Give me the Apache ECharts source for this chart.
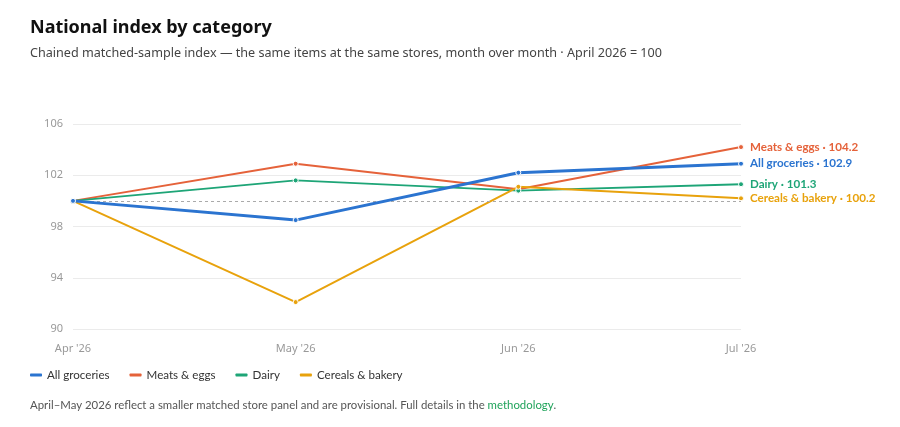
<!DOCTYPE html>
<html><head><meta charset="utf-8">
<script src="https://cdn.jsdelivr.net/npm/echarts@6/dist/echarts.min.js"></script>
<style>html,body{margin:0;padding:0;background:#fff}#c{width:900px;height:427px}</style>
</head><body><div id="c"></div>
<script>
const categories = ["Apr '26", "May '26", "Jun '26", "Jul '26"];
const allGroceries = [100, 98.5, 102.2, 102.9];
const meatsEggs = [100, 102.9, 100.9, 104.2];
const dairy = [100, 101.6, 100.8, 101.3];
const cerealsBakery = [100, 92.1, 101.1, 100.2];
const yTicks = [90, 94, 98, 102, 106];
const seriesNames = ["All groceries", "Meats & eggs", "Dairy", "Cereals & bakery"];
const colors = ["#2b74d0", "#e5623a", "#1ea577", "#e8a20c"];
const FONT = "'Noto Sans', sans-serif";
const FONT2 = "Lato, sans-serif";

const chart = echarts.init(document.getElementById('c'), null, {renderer: 'canvas'});
const data = [allGroceries, meatsEggs, dairy, cerealsBakery];
const widths = [3, 2, 2, 2];
const series = data.map((d, i) => ({
  name: seriesNames[i],
  type: 'line',
  data: d,
  z: i === 0 ? 5 : 3,
  symbol: 'circle',
  symbolSize: 5,
  showAllSymbol: true,
  lineStyle: {color: colors[i], width: widths[i]},
  itemStyle: {color: colors[i], borderColor: '#fff', borderWidth: 1},
  emphasis: {disabled: true},
  endLabel: {
    show: true,
    formatter: p => p.seriesName + ' · ' + p.value,
    color: colors[i],
    fontFamily: FONT2,
    fontSize: 11.6,
    fontWeight: 'bold',
    distance: 9
  },
  markLine: i === 0 ? {
    silent: true,
    symbol: 'none',
    label: {show: false},
    lineStyle: {color: '#aaaaaa', type: [3, 3], width: 1},
    data: [{yAxis: 100}]
  } : undefined
}));

chart.setOption({
  animation: false,
  color: colors,
  title: [
    {text: 'National index by category', left: 30, top: 19, padding: 0,
     textStyle: {fontFamily: FONT, fontSize: 18, fontWeight: 'bold', color: '#111'}},
    {text: 'Chained matched-sample index — the same items at the same stores, month over month · April 2026 = 100',
     left: 30, top: 47, padding: 0, textStyle: {fontFamily: FONT, fontSize: 12.6, fontWeight: 'normal', color: '#444'}}
  ],
  grid: {left: 73, right: 159, top: 124, bottom: 98, containLabel: false},
  xAxis: {
    type: 'category', data: categories, boundaryGap: false,
    axisLine: {show: false}, axisTick: {show: false},
    axisLabel: {color: '#999', fontFamily: FONT, fontSize: 11, margin: 14}
  },
  yAxis: {
    type: 'value', min: 90, max: 106, interval: 4,
    axisLine: {show: false}, axisTick: {show: false},
    axisLabel: {color: '#999', fontFamily: FONT, fontSize: 11, margin: 10,
      formatter: v => yTicks.includes(v) ? String(v) : ''},
    splitLine: {lineStyle: {color: '#ebebeb', width: 1}}
  },
  legend: {
    left: 30, top: 369, padding: 0, itemWidth: 12, itemHeight: 3, itemGap: 20,
    icon: 'roundRect',
    data: seriesNames.map((n, i) => ({name: n, icon: 'roundRect', itemStyle: {color: colors[i], borderWidth: 0}})),
    textStyle: {fontFamily: FONT2, fontSize: 11.6, color: '#333'}
  },
  graphic: [{
    type: 'text', left: 30, top: 400,
    style: {
      text: '{a|April–May 2026 reflect a smaller matched store panel and are provisional. Full details in the }{b|methodology}{a|.}',
      rich: {
        a: {fontFamily: FONT2, fontSize: 11.4, fill: '#555'},
        b: {fontFamily: FONT2, fontSize: 11.4, fill: '#1fa35a'}
      }
    }
  }],
  series
});
</script></body></html>
